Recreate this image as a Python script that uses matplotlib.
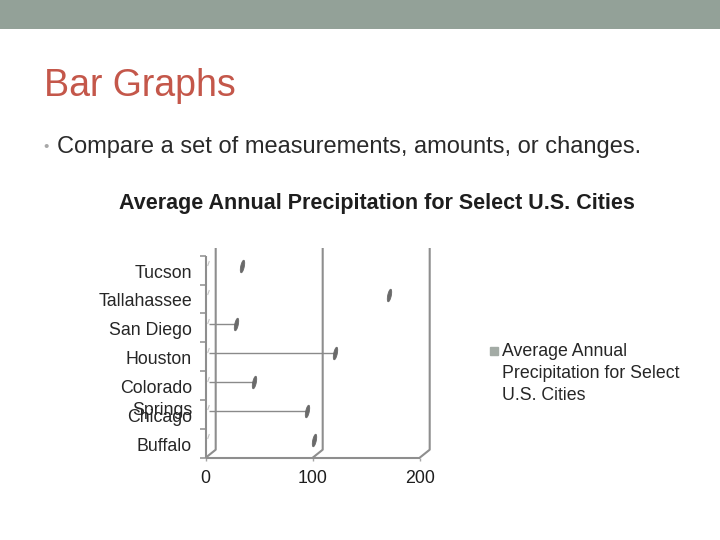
import matplotlib
matplotlib.use('Agg')
import matplotlib.pyplot as plt
import numpy as np
from matplotlib.transforms import ScaledTranslation
from matplotlib.patches import Rectangle
from matplotlib.lines import Line2D
from matplotlib.path import Path

plt.rcParams['font.family'] = ['Liberation Sans', 'DejaVu Sans']

# ---------------- data ----------------
slide_title = "Bar Graphs"
bullet_text = "Compare a set of measurements, amounts, or changes."
chart_title = "Average Annual Precipitation for Select U.S. Cities"
series_name = "Average Annual\nPrecipitation for Select\nU.S. Cities"
cities = ["Buffalo", "Chicago", "Colorado\nSprings", "Houston",
          "San Diego", "Tallahassee", "Tucson"]
precip = [98, 92, 42, 118, 25, 168, 31]
stem_visible = [False, True, True, True, True, False, False]
x_ticks = [0, 100, 200]

# ---------------- figure ----------------
W, H = 720, 540
fig = plt.figure(figsize=(7.2, 5.4), dpi=100)
fig.patch.set_facecolor('white')


def fx(px):
    return px / W


def fy(py):
    return 1 - py / H


# banner
fig.add_artist(Rectangle((0, fy(29)), 1, 29 / H, transform=fig.transFigure,
                         facecolor='#93A198', edgecolor='none'))

fig.text(fx(44), fy(95.7), slide_title, fontsize=27, color='#C4574A',
         va='baseline', ha='left')
fig.text(fx(43), fy(151), '\u2022', fontsize=11, color='#A8A8A8',
         va='baseline', ha='left')
fig.text(fx(57), fy(152.7), bullet_text, fontsize=17, color='#2A2A2A',
         va='baseline', ha='left')
fig.text(fx(376.5), fy(208.7), chart_title, fontsize=15.5, fontweight='bold',
         color='#1E1E1E', va='baseline', ha='center')

# ---------------- axes ----------------
ax_l, ax_r, ax_b, ax_t = 205.7, 440, 457.7, 248
px_per_x = 1.07
px_per_cat = 28.86
ax = fig.add_axes([fx(ax_l), fy(ax_b), (ax_r - ax_l) / W, (ax_b - ax_t) / H])
ax.set_facecolor('none')
xmax = (ax_r - ax_l) / px_per_x
ytop = (ax_b - ax_t) / px_per_cat
ax.set_xlim(0, xmax)
ax.set_ylim(0, ytop)
for s in ax.spines.values():
    s.set_visible(False)

n = len(cities)
wall_col = '#8E8E8E'
DX = 10 / px_per_x
DY = 8 / px_per_cat
for gx in x_ticks:
    ax.plot([gx, gx + DX, gx + DX], [0, DY, ytop], color=wall_col, lw=1.5,
            clip_on=False, solid_capstyle='butt', zorder=2)
ax.plot([0, x_ticks[-1]], [0, 0], color=wall_col, lw=1.5, clip_on=False,
        solid_capstyle='butt', zorder=3)
ax.plot([0, 0], [0, n], color=wall_col, lw=1.5, clip_on=False,
        solid_capstyle='butt', zorder=3)

ax.set_yticks(range(n + 1))
ax.set_yticklabels([])
ax.tick_params(axis='y', length=4.1, width=1.4, color='#A6A6A6',
               direction='out')
ax.set_xticks(x_ticks)
ax.set_xticklabels([str(v) for v in x_ticks])
ax.tick_params(axis='x', length=2.5, width=1.0, color='#A6A6A6', pad=6,
               labelsize=12.8, labelcolor='#1E1E1E')

# category labels
lab_tr = ax.transData + ScaledTranslation(-13.7 / 100, 5.5 / 100,
                                          fig.dpi_scale_trans)
for i, c in enumerate(cities):
    ax.text(0, i + 0.5, c, transform=lab_tr, ha='right', va='top',
            fontsize=12.8, color='#262626', linespacing=1.4)

# bars (degenerate 3D rendering: stem + end cap)
xoff = 3.1
yoff = 0.13
t = np.linspace(0, 2 * np.pi, 40)
ex, ey = 0.28 * np.cos(t), np.sin(t)
ang = np.deg2rad(-12)
ell = Path(np.column_stack([ex * np.cos(ang) - ey * np.sin(ang),
                            ex * np.sin(ang) + ey * np.cos(ang)]), closed=True)
slash = Path([(-0.35, -1), (0.35, 1)], [Path.MOVETO, Path.LINETO])

ypos = np.arange(n) + 0.5 + yoff
vals = np.array(precip, dtype=float)
for i in range(n):
    if stem_visible[i]:
        ax.hlines(ypos[i], xoff, vals[i] + xoff, color='#8A8A8A', lw=1.0,
                  zorder=4)
ax.plot(vals + xoff, ypos, linestyle='none', marker=ell, markersize=9,
        color='#6A6A6A', markeredgewidth=0.6, zorder=5, clip_on=False)
ax.plot(np.full(n, 2.6), np.arange(n) + 0.5 + 0.24, linestyle='none',
        marker=slash, markersize=3.5, markeredgewidth=0.8,
        markeredgecolor='#C4C4C4', zorder=4)

# legend
fig.add_artist(Line2D([fx(494)], [fy(351)], marker='s', markersize=5.2,
                      color='#A3ABA5', linestyle='none',
                      transform=fig.transFigure))
fig.text(fx(502), fy(343.4), series_name, fontsize=12.8, color='#262626',
         va='top', ha='left', linespacing=1.38)

fig.savefig('out.png', dpi=100, facecolor='white')
